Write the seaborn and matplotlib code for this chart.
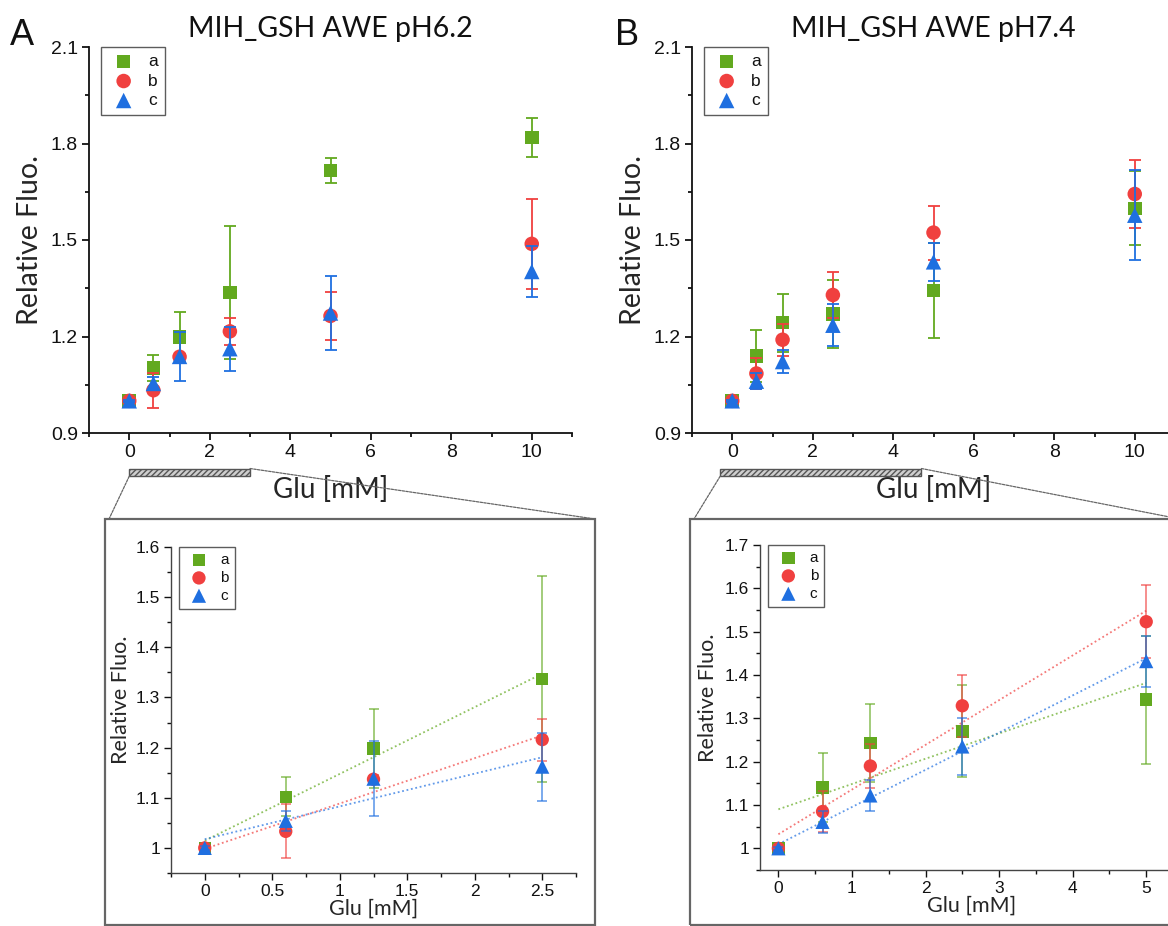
import numpy as np
import matplotlib
matplotlib.use("Agg")
import matplotlib.pyplot as plt
import matplotlib.ticker as mticker
from matplotlib.patches import Rectangle, ConnectionPatch
import seaborn as sns

# data
conc = [0, 0.6, 1.25, 2.5, 5, 10]
series = ["a", "b", "c"]

# pH 6.2
a_62 = [1.000, 1.102, 1.198, 1.337, 1.716, 1.818]
b_62 = [1.000, 1.033, 1.137, 1.216, 1.264, 1.488]
c_62 = [1.000, 1.054, 1.138, 1.162, 1.273, 1.402]
a_62_err = [0.004, 0.039, 0.078, 0.206, 0.039, 0.061]
b_62_err = [0.004, 0.054, 0.008, 0.042, 0.075, 0.140]
c_62_err = [0.004, 0.020, 0.075, 0.068, 0.115, 0.078]

# pH 7.4
a_74 = [1.000, 1.140, 1.243, 1.270, 1.343, 1.598]
b_74 = [1.000, 1.085, 1.190, 1.329, 1.523, 1.643]
c_74 = [1.000, 1.061, 1.122, 1.235, 1.432, 1.577]
a_74_err = [0.004, 0.080, 0.090, 0.106, 0.148, 0.115]
b_74_err = [0.004, 0.048, 0.050, 0.071, 0.084, 0.105]
c_74_err = [0.004, 0.025, 0.035, 0.065, 0.059, 0.140]

COLORS = {"a": "#62a91f", "b": "#f0403f", "c": "#1f6fe0"}
MARKERS = {"a": "s", "b": "o", "c": "^"}
SIZES = {"a": 1.0, "b": 1.15, "c": 1.3}

sns.set_theme(style="ticks")
plt.rcParams.update({
    "font.family": ["Liberation Sans", "DejaVu Sans"],
    "axes.edgecolor": "#111",
    "xtick.color": "#111",
    "ytick.color": "#111",
    "text.color": "#111",
})
LABEL_FONT = "Lato"

W, H = 1168, 926
fig = plt.figure(figsize=(W / 100, H / 100), dpi=100)


def px_rect(x0, y0, x1, y1):
    return [x0 / W, 1 - y1 / H, (x1 - x0) / W, (y1 - y0) / H]


def draw_series(ax, vals, errs, n, msize, elw, ealpha, cap):
    for i, key in enumerate(series):
        x = conc[:n]
        y = vals[key][:n]
        ax.errorbar(x, y, yerr=errs[key][:n], fmt="none", ecolor=COLORS[key],
                    elinewidth=elw, capsize=cap, capthick=elw, alpha=ealpha,
                    zorder=2 + 2 * i)
        sns.scatterplot(x=x, y=y, marker=MARKERS[key], color=COLORS[key],
                        s=msize * SIZES[key], edgecolor="none", linewidth=0,
                        label=key, ax=ax, zorder=3 + 2 * i, legend=False)


def style_axes(ax, lw, major, minor, fs):
    sns.despine(ax=ax)
    for side in ["left", "bottom"]:
        ax.spines[side].set_linewidth(lw)
    ax.tick_params(which="major", direction="out", length=5, width=lw,
                   labelsize=fs, pad=3)
    ax.tick_params(which="minor", direction="out", length=3, width=lw)
    ax.xaxis.set_major_locator(mticker.MultipleLocator(major[0]))
    ax.xaxis.set_minor_locator(mticker.MultipleLocator(minor[0]))
    ax.yaxis.set_major_locator(mticker.MultipleLocator(major[1]))
    ax.yaxis.set_minor_locator(mticker.MultipleLocator(minor[1]))


def add_legend(ax, fs, x0):
    handles, labels = ax.get_legend_handles_labels()
    leg = ax.legend(handles, labels, loc="upper left", bbox_to_anchor=(x0, 1.0),
                    borderaxespad=0, frameon=True, fancybox=False,
                    edgecolor="#333", fontsize=fs, handletextpad=0.5,
                    labelspacing=0.25, borderpad=0.4, handlelength=1.8)
    leg.get_frame().set_linewidth(1.0)


panels = [
    dict(letter="A", title="MIH_GSH AWE pH6.2",
         vals={"a": a_62, "b": b_62, "c": c_62},
         errs={"a": a_62_err, "b": b_62_err, "c": c_62_err},
         main=(89, 47, 572, 433), box=(105, 519, 595, 925),
         inset=(171, 547, 576, 873), n_in=4, in_xlim=(-0.25, 2.75),
         in_ylim=(0.95, 1.6), in_major=(0.5, 0.1), in_minor=(0.25, 0.05),
         zoom=(0.0, 3.0), letter_x=10),
    dict(letter="B", title="MIH_GSH AWE pH7.4",
         vals={"a": a_74, "b": b_74, "c": c_74},
         errs={"a": a_74_err, "b": b_74_err, "c": c_74_err},
         main=(692, 47, 1175, 433), box=(690, 519, 1180, 925),
         inset=(760, 545, 1183, 870), n_in=5, in_xlim=(-0.25, 5.5),
         in_ylim=(0.95, 1.7), in_major=(1, 0.1), in_minor=(0.5, 0.05),
         zoom=(-0.3, 4.7), letter_x=615),
]

fmt_g = mticker.FuncFormatter(lambda v, _: f"{v:g}")

for p in panels:
    # main plot
    ax = fig.add_axes(px_rect(*p["main"]))
    draw_series(ax, p["vals"], p["errs"], len(conc), 95, 1.3, 1.0, 4)
    ax.set_xlim(-1, 11)
    ax.set_ylim(0.9, 2.1)
    style_axes(ax, 1.3, (2, 0.3), (1, 0.15), 14)
    ax.yaxis.set_major_formatter(mticker.FormatStrFormatter("%.1f"))
    ax.set_title(p["title"], fontsize=20.5, family=LABEL_FONT, pad=7)
    ax.set_ylabel("Relative Fluo.", fontsize=20.5, family=LABEL_FONT)
    ax.yaxis.set_label_coords(-0.095, 0.5)
    ax.set_xlabel("Glu [mM]", fontsize=20, family=LABEL_FONT)
    ax.xaxis.set_label_coords(0.5, -0.112)
    add_legend(ax, 12.5, 0.025)
    fig.text(p["letter_x"] / W, 1 - 45 / H, p["letter"], fontsize=26,
             va="baseline", ha="left")

    # zoom bar under the x-axis
    z0, z1 = p["zoom"]
    bar = Rectangle((z0, -0.112), z1 - z0, 0.02, transform=ax.get_xaxis_transform(),
                    facecolor="#cfcfcf", edgecolor="#555", hatch="//////",
                    linewidth=1.0, clip_on=False)
    ax.add_patch(bar)

    # inset frame
    bx0, by0, bx1, by1 = p["box"]
    frame = Rectangle((bx0 / W, 1 - by1 / H), (bx1 - bx0) / W, (by1 - by0) / H,
                      transform=fig.transFigure, fill=False, edgecolor="#666",
                      linewidth=1.6)
    fig.add_artist(frame)

    for xa, ya, xb in [(z0, -0.112, bx0 + 4), (z1, -0.092, bx1)]:
        con = ConnectionPatch(xyA=(xa, ya), coordsA=ax.get_xaxis_transform(),
                              xyB=(xb / W, 1 - by0 / H), coordsB=fig.transFigure,
                              linestyle=(0, (2, 1)), color="#666", linewidth=0.9)
        fig.add_artist(con)

    # inset plot with linear fits
    ax_in = fig.add_axes(px_rect(*p["inset"]))
    n = p["n_in"]
    for i, key in enumerate(series):
        sns.regplot(x=np.array(conc[:n]), y=np.array(p["vals"][key][:n]),
                    scatter=False, ci=None, truncate=True, ax=ax_in,
                    line_kws=dict(color=COLORS[key], linestyle=(0, (1, 1.5)),
                                  linewidth=1.3, alpha=0.7, zorder=1))
    draw_series(ax_in, p["vals"], p["errs"], n, 80, 1.1, 0.75, 3.5)
    ax_in.set_xlim(*p["in_xlim"])
    ax_in.set_ylim(*p["in_ylim"])
    style_axes(ax_in, 1.0, p["in_major"], p["in_minor"], 12.5)
    ax_in.xaxis.set_major_formatter(fmt_g)
    ax_in.yaxis.set_major_formatter(fmt_g)
    for side in ["left", "bottom"]:
        ax_in.spines[side].set_color("#444")
    ax_in.set_ylabel("Relative Fluo.", fontsize=15.5, family=LABEL_FONT)
    ax_in.yaxis.set_label_coords(-0.099, 0.53)
    ax_in.set_xlabel("Glu [mM]", fontsize=15.5, family=LABEL_FONT)
    ax_in.xaxis.set_label_coords(0.5, -0.08)
    add_legend(ax_in, 11, 0.02)

fig.savefig("out.png", dpi=100)
